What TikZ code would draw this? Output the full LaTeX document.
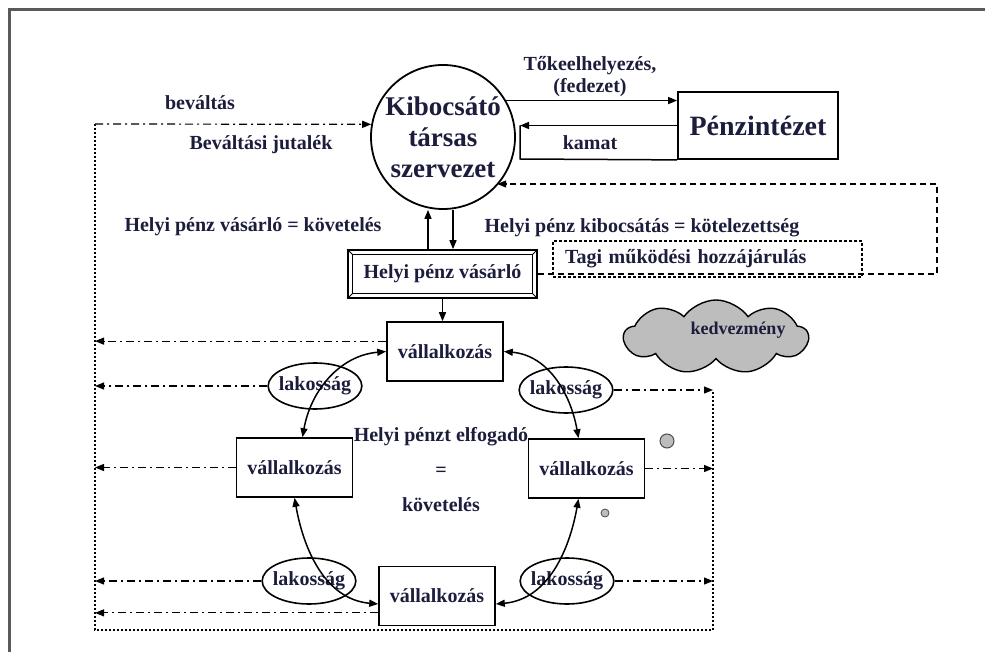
\documentclass[tikz,border=0pt]{standalone}
\usepackage{fontspec}
\setmainfont{Liberation Serif}
\usetikzlibrary{arrows.meta, shapes.geometric, shapes.symbols, calc}
\definecolor{inkblue}{HTML}{1C1C3C}
\definecolor{framegray}{HTML}{5A5A5A}
\definecolor{cloudgray}{HTML}{BDBDBD}

\begin{document}
\begin{tikzpicture}[
    x=0.5pt, y=-0.5pt,
    >={Triangle[length=4.5pt,width=3.5pt]},
    lbl/.style={font=\fontsize{10}{12}\selectfont\bfseries, text=inkblue, inner sep=1pt},
    issuer/.style={circle, draw, line width=0.9pt, minimum size=72pt, inner sep=0pt,
        align=center, text=inkblue, font=\fontsize{13.5}{15.5}\selectfont\bfseries},
    bankbox/.style={draw, line width=0.9pt, minimum width=80pt, minimum height=33.5pt,
        text=inkblue, font=\fontsize{14}{16}\selectfont\bfseries},
    firmbox/.style={lbl, draw, line width=0.8pt, minimum width=58pt, minimum height=29.5pt},
    popbubble/.style={lbl, ellipse, draw, line width=0.8pt, inner xsep=-1.5pt,
        inner ysep=3pt, minimum height=23pt},
    arrowline/.style={->, line width=0.75pt},
    bothline/.style={<->, line width=0.75pt},
    cashline/.style={->, line width=0.6pt, dash pattern=on 4pt off 2pt on 1pt off 2pt},
    railline/.style={line width=0.6pt, dash pattern=on 1pt off 1pt},
    loopline/.style={->, line width=0.6pt, dash pattern=on 3pt off 2pt}
]
\useasboundingbox (0,0) rectangle (985,652);

% page frame
\draw[framegray, line width=1.5pt] (9,652) -- (9,10) -- (985,10);

% issuer and bank
\node[issuer] (issuer) at (443,137) {Kibocsátó\\társas\\szervezet};
\node[bankbox] (bank) at (758,125.5) {Pénzintézet};

\draw[arrowline] (issuer.30) -- (issuer.30 -| bank.west);
\node[lbl, align=center, font=\fontsize{10}{11}\selectfont\bfseries] (capital) at (590,77) {Tőkeelhelyezés,\\(fedezet)};

\coordinate (kamatcorner) at (520,159);
\draw[arrowline] (bank.west) -- (bank.west -| kamatcorner);
\draw[line width=0.75pt] (bank.south west) -- (kamatcorner) -- (kamatcorner |- bank.west);
\node[lbl] (interest) at (590,143) {kamat};

% redemption rail
\coordinate (railtl) at (95,124);
\coordinate (railbl) at (95,630);
\coordinate (railbr) at (713,630);
\coordinate (railtr) at (713,390);
\draw[cashline] (railtl) -- (issuer.170);
\draw[railline] (railtl) -- (railbl) -- (railbr) -- (railtr);

\node[lbl] (redeem) at (200,103) {beváltás};
\node[lbl] (fee) at (261,145) {Beváltási jutalék};
\node[lbl] (buyerclaim) at (253,227) {Helyi pénz vásárló = követelés};
\node[lbl] (issueduty) at (642,228) {Helyi pénz kibocsátás = kötelezettség};

% buyer box (bevelled frame)
\node[lbl, draw, line width=0.8pt, minimum width=94.5pt, minimum height=24pt] (buyer) at (442.5,274) {Helyi pénz vásárló};
\draw[line width=0.6pt] ($(buyer.north west)+(2.5pt,-2.5pt)$) rectangle ($(buyer.south east)+(-2.5pt,2.5pt)$);
\draw[line width=0.5pt] (buyer.north west) -- ++(2.5pt,-2.5pt)
    (buyer.north east) -- ++(-2.5pt,-2.5pt)
    (buyer.south west) -- ++(2.5pt,2.5pt)
    (buyer.south east) -- ++(-2.5pt,2.5pt);

\draw[arrowline] ([xshift=-7.25pt]buyer.north) -- ([xshift=-7.25pt]buyer.north |- issuer.south);
\draw[arrowline] ([xshift=5.25pt]buyer.north |- issuer.south) -- ([xshift=5.25pt]buyer.north);

% member contribution loop
\coordinate (loopcorner) at (937,184);
\draw[loopline] (buyer.east) -- (buyer.east -| loopcorner) -- (loopcorner) -- (loopcorner -| issuer.-42);
\node[lbl, draw, dash pattern=on 1.5pt off 1pt, line width=0.7pt, inner xsep=6pt,
    text width=142.5pt, align=left, minimum height=18pt] (memberfee) at (707.5,259) {Tagi működési hozzájárulás};

% firms and population
\node[firmbox] (topfirm) at (445,351.5) {vállalkozás};
\node[firmbox] (leftfirm) at (294.5,467.5) {vállalkozás};
\node[firmbox] (rightfirm) at (586.5,468.5) {vállalkozás};
\node[firmbox] (bottomfirm) at (437,596) {vállalkozás};

\node[popbubble] (tlpop) at (315,386) {lakosság};
\node[popbubble] (trpop) at (566,390) {lakosság};
\node[popbubble] (blpop) at (309,581) {lakosság};
\node[popbubble] (brpop) at (567,581) {lakosság};

\draw[arrowline] (buyer.south) -- (buyer.south |- topfirm.north);

\draw[bothline] (topfirm.west) to[out=185,in=80] ([xshift=4pt]leftfirm.north);
\draw[bothline] (topfirm.east) to[out=-5,in=100] ([xshift=-4pt]rightfirm.north);
\draw[bothline] (leftfirm.south) to[out=-80,in=175] ([yshift=-4pt]bottomfirm.west);
\draw[bothline] ([xshift=-4pt]rightfirm.south) to[out=-100,in=5] ([yshift=-4pt]bottomfirm.east);

\node[lbl, align=center, font=\fontsize{10}{17.5}\selectfont\bfseries] (accept) at (441,470) {Helyi pénzt elfogadó\\=\\követelés};

% cash back to the rails
\draw[cashline] (topfirm.170) -- (railtl |- topfirm.170);
\draw[cashline] (tlpop.west) -- (railtl |- tlpop.west);
\draw[cashline] (leftfirm.west) -- (railtl |- leftfirm.west);
\draw[cashline] (blpop.west) -- (railtl |- blpop.west);
\draw[cashline] (bottomfirm.196) -- (railtl |- bottomfirm.196);
\draw[cashline] (trpop.east) -- (railtr |- trpop.east);
\draw[cashline] (rightfirm.east) -- (railtr |- rightfirm.east);
\draw[cashline] (brpop.east) -- (railtr |- brpop.east);

% benefit cloud and dots
\node[cloud, draw, fill=cloudgray, cloud puffs=9, cloud puff arc=110, aspect=2.3, line width=0.7pt,
    minimum width=92pt, minimum height=37pt] (bonus) at (716,337) {};
\node[lbl, font=\fontsize{9}{11}\selectfont\bfseries] (bonuslabel) at (738,330) {kedvezmény};
\filldraw[fill=cloudgray, draw=black!70, line width=0.5pt] (667,441) circle (3.5pt);
\filldraw[fill=cloudgray, draw=black!70, line width=0.4pt] (605,513) circle (2pt);

\end{tikzpicture}
\end{document}
